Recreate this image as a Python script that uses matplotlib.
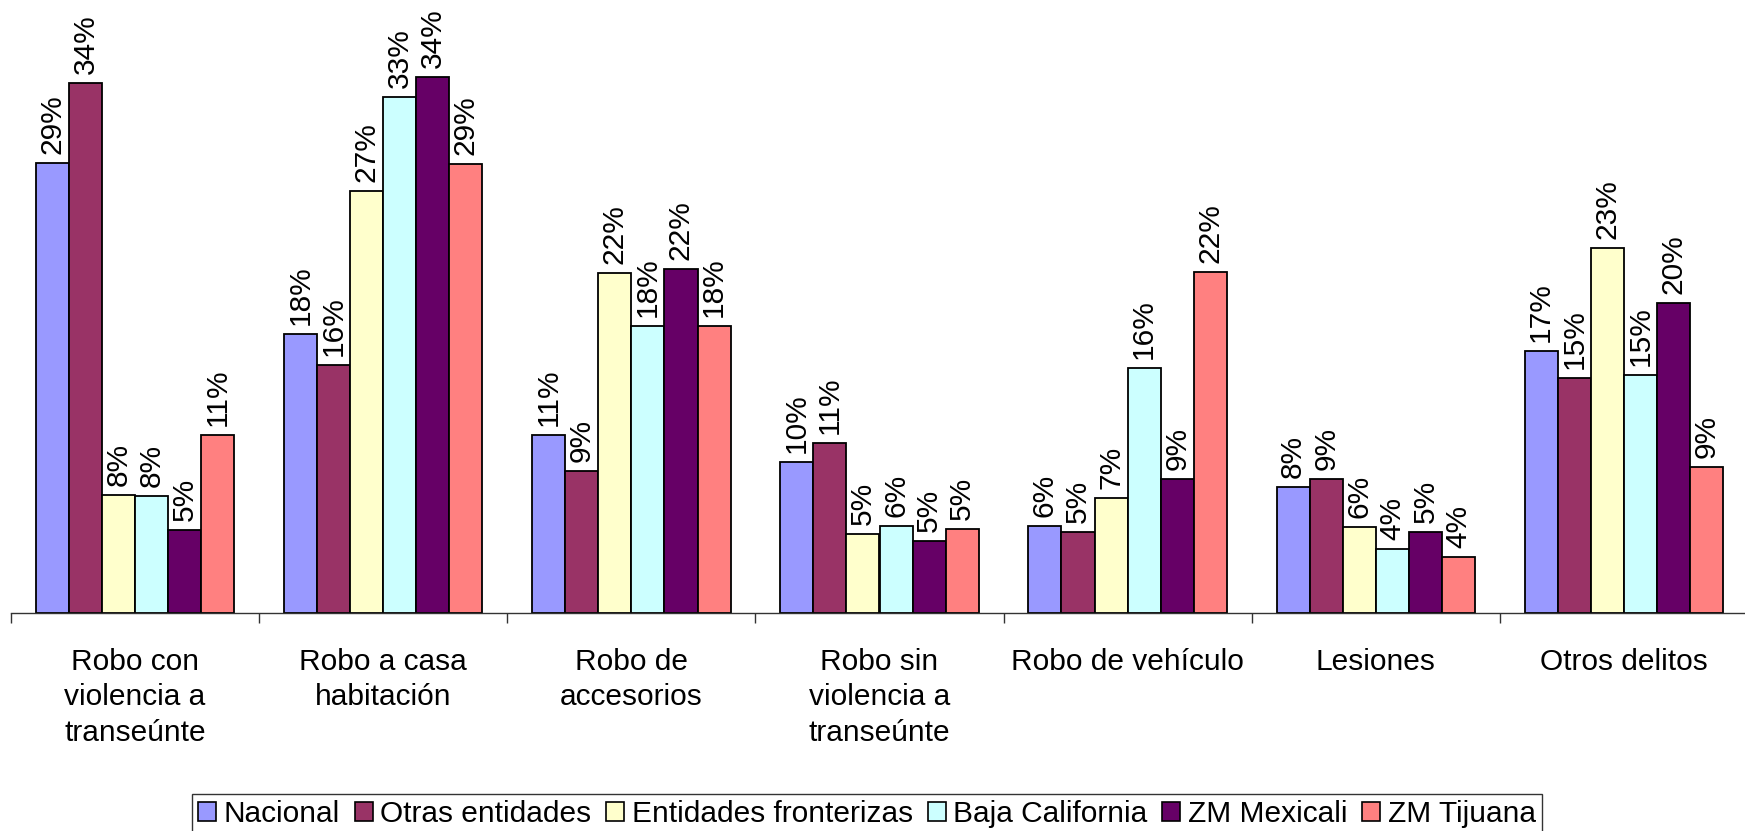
import matplotlib
matplotlib.use("Agg")
import matplotlib.pyplot as plt
import numpy as np
from matplotlib.patches import Patch

categories = ["Robo con\nviolencia a\ntranseúnte", "Robo a casa\nhabitación", "Robo de\naccesorios",
              "Robo sin\nviolencia a\ntranseúnte", "Robo de vehículo", "Lesiones", "Otros delitos"]
series_names = ["Nacional", "Otras entidades", "Entidades fronterizas", "Baja California",
                "ZM Mexicali", "ZM Tijuana"]
nacional = [28.9, 17.9, 11.4, 9.7, 5.6, 8.1, 16.8]
otras = [34.0, 15.9, 9.1, 10.9, 5.2, 8.6, 15.1]
fronterizas = [7.6, 27.1, 21.8, 5.1, 7.4, 5.5, 23.4]
baja_california = [7.5, 33.1, 18.4, 5.6, 15.7, 4.1, 15.3]
mexicali = [5.3, 34.4, 22.1, 4.6, 8.6, 5.2, 19.9]
tijuana = [11.4, 28.8, 18.4, 5.4, 21.9, 3.6, 9.4]
series = [nacional, otras, fronterizas, baja_california, mexicali, tijuana]
colors = ["#9999FF", "#993366", "#FFFFCC", "#CCFFFF", "#660066", "#FF8080"]

plt.rcParams['font.family'] = ['Liberation Sans', 'DejaVu Sans']
FS = 21.5

W, H = 1745, 831
fig = plt.figure(figsize=(W / 100, H / 100), dpi=100)
base_px = 613
ax = fig.add_axes([11 / W, (H - base_px) / H, 1737 / W, base_px / H])

n = len(series)
bw = 1 / 7.5
x = np.arange(len(categories))
for i, (vals, c) in enumerate(zip(series, colors)):
    pos = x + (i - (n - 1) / 2) * bw
    bars = ax.bar(pos, vals, width=bw, color=c, edgecolor="black", linewidth=1.3,
                  label=series_names[i], zorder=2)
    for b, v in zip(bars, vals):
        ax.annotate(f"{v:.0f}%", (b.get_x() + b.get_width() / 2, v), xytext=(0, 6.5),
                    textcoords="offset points", rotation=90, ha="center", va="bottom",
                    fontsize=FS)

ax.set_xlim(-0.5, len(categories) - 0.5)
ax.set_ylim(0, base_px / 15.58)
for s in ["left", "right", "top"]:
    ax.spines[s].set_visible(False)
ax.spines["bottom"].set_color("#333333")
ax.spines["bottom"].set_linewidth(1.0)
ax.set_yticks([])
ax.set_xticks(np.arange(len(categories) + 1) - 0.5, minor=True)
ax.tick_params(axis="x", which="minor", length=7, color="#333333", width=1.0)
ax.set_xticks(x)
ax.set_xticklabels(categories, fontsize=FS, linespacing=1.35, va="top", ha="center")
ax.tick_params(axis="x", which="major", length=0, pad=25)
ax.patch.set_alpha(0)

handles = [Patch(facecolor=c, edgecolor="black", linewidth=1.2) for c in colors]
leg = fig.legend(handles, series_names, loc="lower center", bbox_to_anchor=(867 / W, -0.004),
                 ncol=6, fontsize=FS, frameon=True, fancybox=False, edgecolor="black",
                 handlelength=0.6, handleheight=0.6, handletextpad=0.25, columnspacing=0.5,
                 borderpad=0.2, borderaxespad=0)
leg.get_frame().set_linewidth(1.0)

fig.savefig("out.png", dpi=100, facecolor="white")
